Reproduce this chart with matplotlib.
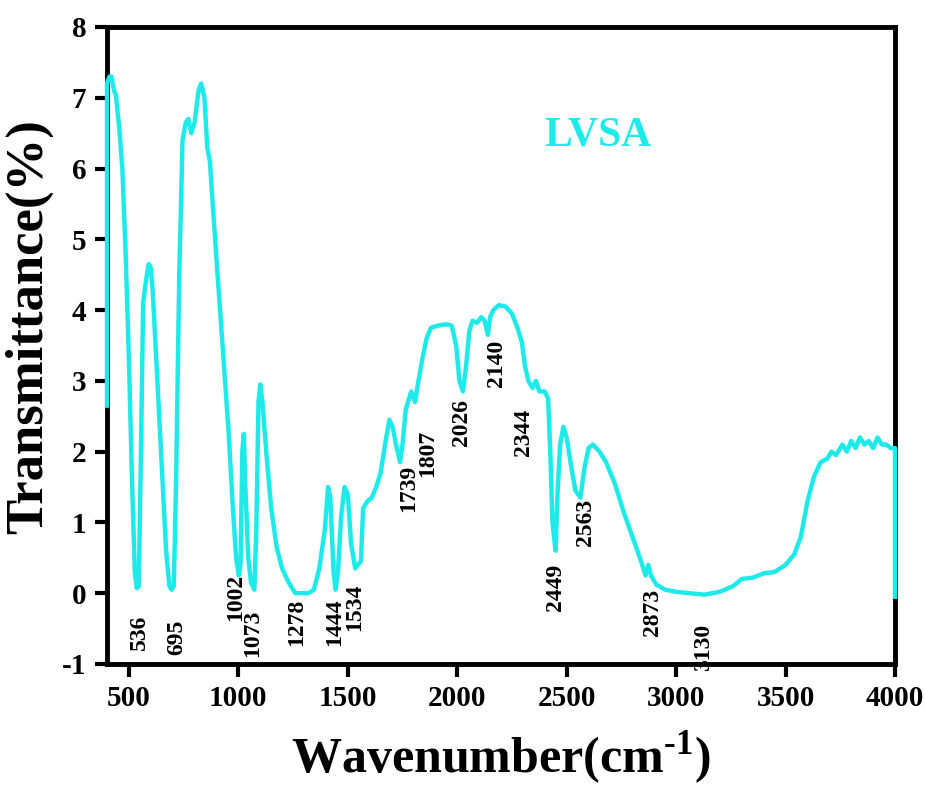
"""FTIR transmittance spectrum of LVSA."""

import matplotlib

matplotlib.use("Agg")
from matplotlib import pyplot as plt

plt.rcParams["font.family"] = "Liberation Serif"
plt.rcParams["font.weight"] = "bold"
plt.rcParams["axes.unicode_minus"] = False
plt.rcParams["mathtext.fontset"] = "custom"
plt.rcParams["mathtext.rm"] = "Liberation Serif:bold"
plt.rcParams["mathtext.bf"] = "Liberation Serif:bold"

LINE_COLOR = "#1FEAEA"

# spectrum
wavenumber = [
    400, 400, 405, 412, 420, 432, 440, 455, 470, 485, 500, 515, 527, 536, 545,
    555, 565, 575, 590, 600, 610, 630, 650, 670, 685, 695, 705, 715, 730, 745,
    760, 772, 785, 800, 818, 830, 845, 858, 870, 885, 905, 930, 955, 975, 990,
    1002, 1010, 1018, 1025, 1032, 1045, 1058, 1073, 1082, 1092, 1100, 1110,
    1130, 1150, 1175, 1200, 1230, 1260, 1278, 1320, 1345, 1370, 1395, 1410,
    1420, 1435, 1444, 1455, 1470, 1485, 1500, 1515, 1534, 1545, 1560, 1570,
    1590, 1610, 1630, 1650, 1670, 1690, 1705, 1720, 1739, 1750, 1765, 1780,
    1790, 1807, 1820, 1840, 1860, 1880, 1910, 1950, 1975, 1995, 2010, 2026,
    2040, 2055, 2070, 2090, 2110, 2125, 2140, 2150, 2165, 2190, 2220, 2250,
    2275, 2295, 2310, 2325, 2344, 2360, 2375, 2400, 2415, 2425, 2435, 2449,
    2458, 2470, 2485, 2500, 2520, 2540, 2563, 2580, 2600, 2620, 2650, 2680,
    2720, 2760, 2800, 2840, 2860, 2868, 2873, 2885, 2910, 2950, 3000, 3060,
    3130, 3200, 3260, 3300, 3350, 3400, 3450, 3500, 3540, 3570, 3600, 3630,
    3660, 3690, 3710, 3730, 3760, 3780, 3800, 3820, 3840, 3860, 3880, 3900,
    3920, 3940, 3960, 3980, 4000, 4000,
]
transmittance = [
    2.65, 7.2, 7.25, 7.3, 7.3, 7.1, 7.05, 6.6, 6.0, 4.8, 3.3, 1.5, 0.3, 0.07,
    0.1, 2.0, 4.1, 4.35, 4.65, 4.6, 4.2, 3.0, 1.8, 0.6, 0.1, 0.05, 0.1, 1.5,
    4.5, 6.4, 6.65, 6.7, 6.5, 6.65, 7.1, 7.2, 7.0, 6.3, 6.1, 5.4, 4.5, 3.4,
    2.3, 1.2, 0.5, 0.25, 0.4, 2.0, 2.25, 1.5, 0.5, 0.15, 0.05, 0.9, 2.7, 2.95,
    2.7, 1.9, 1.2, 0.65, 0.35, 0.15, 0.0, 0.0, 0.0, 0.05, 0.35, 0.9, 1.5,
    1.35, 0.3, 0.05, 0.3, 1.1, 1.5, 1.4, 0.7, 0.35, 0.4, 0.45, 1.2, 1.3, 1.35,
    1.5, 1.7, 2.1, 2.45, 2.35, 2.1, 1.85, 2.1, 2.6, 2.75, 2.85, 2.7, 2.95,
    3.3, 3.6, 3.75, 3.78, 3.8, 3.78, 3.5, 3.0, 2.85, 3.2, 3.7, 3.85, 3.82,
    3.9, 3.85, 3.65, 3.9, 4.0, 4.07, 4.05, 3.95, 3.75, 3.55, 3.2, 3.0, 2.9,
    3.0, 2.85, 2.85, 2.75, 2.0, 1.0, 0.6, 1.4, 2.1, 2.35, 2.2, 1.8, 1.45,
    1.35, 1.75, 2.05, 2.1, 2.0, 1.85, 1.55, 1.15, 0.8, 0.45, 0.25, 0.35, 0.4,
    0.25, 0.12, 0.05, 0.02, 0.0, -0.02, 0.02, 0.1, 0.2, 0.22, 0.28, 0.3, 0.4,
    0.55, 0.8, 1.3, 1.65, 1.85, 1.9, 2.0, 1.95, 2.1, 2.0, 2.15, 2.05, 2.2,
    2.1, 2.15, 2.05, 2.2, 2.1, 2.1, 2.05, 2.05, -0.05,
]

# peak labels: text, x position, y of the label's upper end
peak_labels = ["536", "695", "1002", "1073", "1278", "1444", "1534", "1739",
               "1807", "2026", "2140", "2344", "2449", "2563", "2873", "3130"]
label_x = [550, 720, 989, 1067, 1268, 1439, 1529, 1776,
           1863, 2018, 2179, 2302, 2449, 2586, 2892, 3125]
label_top = [-0.30, -0.37, 0.27, -0.23, -0.08, -0.08, 0.13, 1.82,
             2.31, 2.74, 3.58, 2.60, 0.41, 1.33, 0.06, -0.44]

fig = plt.figure(figsize=(9.25, 7.93), dpi=100)
ax = fig.add_axes([0.1157, 0.1627, 0.8519, 0.8033])

ax.plot(wavenumber, transmittance, color=LINE_COLOR, lw=3.2,
        solid_joinstyle="round", zorder=3, clip_on=False)

for text, x, y in zip(peak_labels, label_x, label_top):
    ax.text(x, y, text, rotation=90, ha="center", va="top", fontsize=17,
            fontweight="bold")

ax.text(2643, 6.47, "LVSA", color=LINE_COLOR, fontsize=30, fontweight="bold",
        ha="center", va="center")

ax.set_xlim(400, 4000)
ax.set_ylim(-1, 8)
ax.set_xticks(range(500, 4001, 500))
ax.set_yticks(range(-1, 9))
ax.tick_params(direction="out", length=9, width=3, labelsize=21, pad=6)
for spine in ax.spines.values():
    spine.set_linewidth(3.5)

ax.set_xlabel(r"Wavenumber(cm$^{\text{-}1}$)", fontsize=36, fontweight="bold",
              labelpad=12)
ax.set_ylabel("Transmittance(%)", fontsize=38, fontweight="bold")
ax.yaxis.set_label_coords(-0.068, 0.53)

plt.savefig("out.png", dpi=100)
